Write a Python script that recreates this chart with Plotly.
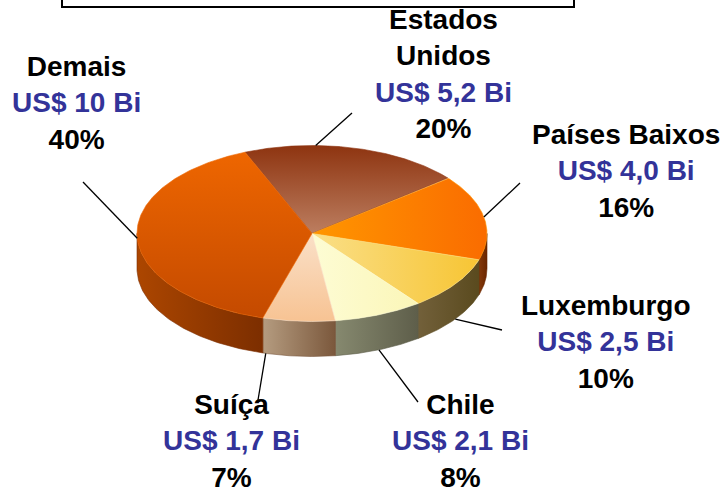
import numpy as np
import plotly.graph_objects as go

# ---------------- data ----------------
paises = ["Estados Unidos", "Países Baixos", "Luxemburgo", "Chile", "Suíça", "Demais"]
valores = [5.2, 4.0, 2.5, 2.1, 1.7, 10.0]
rotulos_valor = ["US$ 5,2 Bi", "US$ 4,0 Bi", "US$ 2,5 Bi", "US$ 2,1 Bi", "US$ 1,7 Bi", "US$ 10 Bi"]
percentuais = ["20%", "16%", "10%", "8%", "7%", "40%"]

# ---------------- style ----------------
W, H = 720, 494
CX, CY, RX, RY, DEPTH = 312, 233.5, 175, 88, 35
START_ANGLE = 112.5  # degrees, slices run clockwise

# top-face gradients: (type, color_a, color_b)
top_style = [
    ("vertical", "#8E3410", "#BC7E60"),
    ("horizontal", "#FF9600", "#FA6C00"),
    ("horizontal", "#FADF88", "#F7C534"),
    ("horizontal", "#FDFCD4", "#FBF6B8"),
    ("vertical", "#FAE0C8", "#F7C393"),
    ("vertical", "#EE6600", "#C44A00"),
]
side_style = [
    ("#8A3A10", "#8A3A10"),
    ("#84380A", "#6A2600"),
    ("#72603A", "#5A4A1E"),
    ("#86896F", "#5E5E4A"),
    ("#B59C80", "#7B583C"),
    ("#AC4600", "#7C2E00"),
]
label_font = "Liberation Sans, Arial, sans-serif"
FS = 28
BLUE = "#333399"

# label block centres (x, y) per slice
label_center = [(443, 74), (626, 171), (606, 342), (460, 441), (231, 441), (76, 103)]
leader_end = [(352, 113), (520, 183), (502, 330), (418, 402), (258, 400), (83, 182)]
leader_angle_offset = [13, 0, 0, 0, -11, 0]

# ---------------- geometry from data ----------------
total = sum(valores)
spans = [v / total * 360.0 for v in valores]
bounds = []
a = START_ANGLE
for s in spans:
    bounds.append((a - s, a))  # (lo, hi)
    a -= s


def ex(t):
    return CX + RX * np.cos(np.radians(t))


def ey(t):
    return CY - RY * np.sin(np.radians(t))


fig = go.Figure()

# side faces (front half only)
for i, (lo, hi) in enumerate(bounds):
    for k in (-1, 0, 1):
        f_lo, f_hi = 180 + 360 * k, 360 + 360 * k
        s_lo, s_hi = max(lo, f_lo), min(hi, f_hi)
        if s_hi - s_lo <= 0.01:
            continue
        t = np.linspace(s_lo, s_hi, 80)
        xs = np.concatenate([ex(t), ex(t[::-1])])
        ys = np.concatenate([ey(t), ey(t[::-1]) + DEPTH])
        xs = np.append(xs, xs[0])
        ys = np.append(ys, ys[0])
        c1, c2 = side_style[i]
        fig.add_trace(go.Scatter(
            x=xs, y=ys, mode="lines", fill="toself",
            line=dict(width=0.6, color=c2),
            fillcolor=c1,
            fillgradient=dict(type="horizontal", colorscale=[[0, c1], [1, c2]],
                              start=float(xs.min()), stop=float(xs.max())),
            hoverinfo="skip", showlegend=False))

# top faces
for i, (lo, hi) in enumerate(bounds):
    t = np.linspace(hi, lo, 160)
    xs = np.concatenate([[CX], ex(t), [CX]])
    ys = np.concatenate([[CY], ey(t), [CY]])
    typ, c1, c2 = top_style[i]
    if typ == "vertical":
        st, sp = float(ys.min()), float(ys.max())
    else:
        st, sp = float(xs.min()), float(xs.max())
    fig.add_trace(go.Scatter(
        x=xs, y=ys, mode="lines", fill="toself",
        line=dict(width=0.6, color=c1),
        fillcolor=c1,
        fillgradient=dict(type=typ, colorscale=[[0, c1], [1, c2]], start=st, stop=sp),
        name=paises[i], hoverinfo="name", showlegend=False))

# leader lines
shapes = []
for i, (lo, hi) in enumerate(bounds):
    mid = (lo + hi) / 2 + leader_angle_offset[i]
    x0, y0 = float(ex(mid)), float(ey(mid))
    if np.sin(np.radians(mid)) < -0.2:
        y0 += DEPTH
    x1, y1 = leader_end[i]
    shapes.append(dict(type="line", x0=x0, y0=y0, x1=x1, y1=y1,
                       xref="x", yref="y", line=dict(color="black", width=1.3)))

# frame at top (cut-off title box)
shapes.append(dict(type="rect", x0=62, x1=574, y0=-20, y1=7, xref="x", yref="y",
                   line=dict(color="black", width=2), fillcolor="rgba(0,0,0,0)"))

# labels (one block per slice)
annotations = []
for i in range(len(paises)):
    nome = paises[i].replace(" ", "<br>") if i == 0 else paises[i]
    txt = (f"<b>{nome}</b><br><b><span style='color:{BLUE}'>{rotulos_valor[i]}</span></b>"
           f"<br><b>{percentuais[i]}</b>")
    lx, ly = label_center[i]
    annotations.append(dict(x=lx, y=ly, xref="x", yref="y", text=txt,
                            showarrow=False, xanchor="center", yanchor="middle", align="center",
                            font=dict(family=label_font, size=FS, color="black")))

fig.update_layout(
    width=W, height=H, autosize=False,
    margin=dict(l=0, r=0, t=0, b=0),
    paper_bgcolor="white", plot_bgcolor="white",
    xaxis=dict(range=[0, W], visible=False, fixedrange=True),
    yaxis=dict(range=[H, 0], visible=False, fixedrange=True),
    shapes=shapes, annotations=annotations,
)

fig.write_html("out.html", config={"displayModeBar": False},
               post_script="document.body.style.margin='0';document.body.style.overflow='hidden';")
